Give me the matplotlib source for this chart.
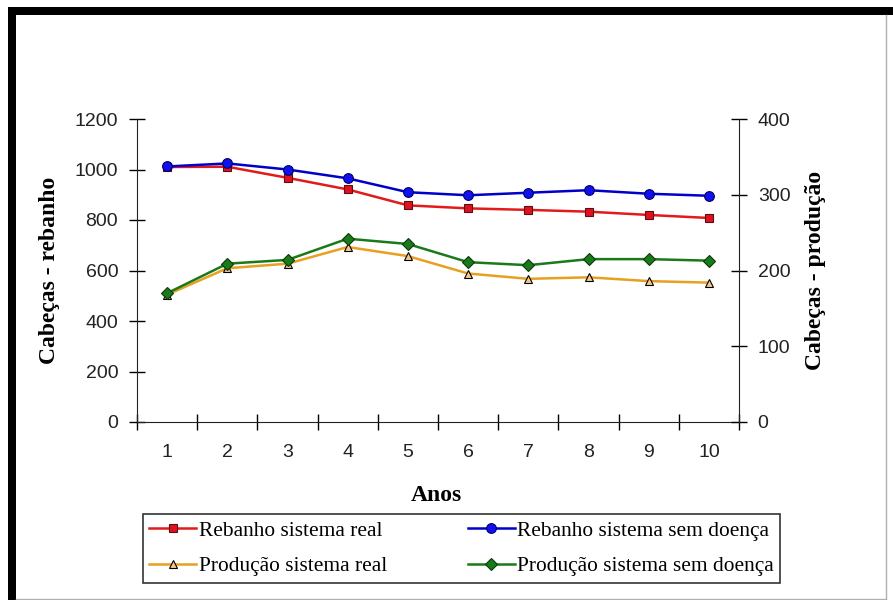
import matplotlib.pyplot as plt
from matplotlib.patches import Rectangle
from matplotlib.lines import Line2D

anos = [1, 2, 3, 4, 5, 6, 7, 8, 9, 10]
rebanho_real = [1010, 1011, 967, 921, 858, 846, 840, 833, 820, 808]
rebanho_sem_doenca = [1012, 1024, 1000, 965, 910, 898, 908, 918, 904, 896]
producao_real = [168, 203, 209, 231, 219, 196, 189, 191, 186, 184]
producao_sem_doenca = [170, 209, 214, 242, 235, 211, 207, 215, 215, 213]

W, H = 893, 600
fig = plt.figure(figsize=(W / 100, H / 100), dpi=100)

# moldura: faixa preta em cima e à esquerda, linha cinza à direita e embaixo
fig.patches.append(Rectangle((8 / W, 1 - 15 / H), 1 - 8 / W, 8 / H, transform=fig.transFigure,
                             facecolor="black", edgecolor="none", zorder=0))
fig.patches.append(Rectangle((8 / W, 0), 8 / W, 1 - 7 / H, transform=fig.transFigure,
                             facecolor="black", edgecolor="none", zorder=0))
fig.add_artist(Line2D([886 / W, 886 / W], [0, 1 - 15 / H], transform=fig.transFigure, color="#b0b0b0", lw=1))
fig.add_artist(Line2D([16 / W, 886 / W], [1.5 / H, 1.5 / H], transform=fig.transFigure, color="#b0b0b0", lw=1))

ax = fig.add_axes([137 / W, 1 - 422 / H, (739 - 137) / W, (422 - 119) / H])
ax2 = ax.twinx()

l1, = ax.plot(anos, rebanho_real, color="#e31a1c", lw=1.8, marker="s", ms=6,
              mfc="#e01020", mec="#5a1010", mew=0.8, zorder=3)
l2, = ax.plot(anos, rebanho_sem_doenca, color="#0000c8", lw=1.8, marker="o", ms=7,
              mfc="#1010f0", mec="#000060", mew=0.8, zorder=3)
l3, = ax2.plot(anos, producao_real, color="#e8a020", lw=1.8, marker="^", ms=6,
               mfc="#f5c890", mec="black", mew=0.8, zorder=3)
l4, = ax2.plot(anos, producao_sem_doenca, color="#1a7a1a", lw=1.8, marker="D", ms=6,
               mfc="#1a7a1a", mec="#0a3a0a", mew=0.8, zorder=3)

ax.set_xlim(0.5, 10.5)
ax.set_ylim(0, 1200)
ax2.set_ylim(0, 400)
ax.set_yticks([0, 200, 400, 600, 800, 1000, 1200])
ax2.set_yticks([0, 100, 200, 300, 400])

ax.set_xticks([x + 0.5 for x in range(0, 11)])
ax.set_xticklabels([])
ax.set_xticks(anos, minor=True)
ax.set_xticklabels([str(a) for a in anos], minor=True)
ax.tick_params(axis="x", which="minor", length=0, pad=16)
ax.tick_params(axis="x", which="major", direction="inout", length=11, width=1)

for lab in ax.get_xticklabels(minor=True) + ax.get_yticklabels() + ax2.get_yticklabels():
    lab.set_fontfamily("Liberation Sans")
    lab.set_fontsize(14)
    lab.set_color("#222222")
ax.tick_params(axis="y", direction="inout", length=11, width=1, pad=8)
ax2.tick_params(axis="y", direction="inout", length=11, width=1, pad=8)

for a in (ax, ax2):
    a.spines["top"].set_visible(False)
    a.spines["left"].set_color("#222222")
    a.spines["right"].set_color("#222222")
    a.spines["bottom"].set_color("#222222")
ax.spines["right"].set_visible(False)
ax2.spines["left"].set_visible(False)
ax2.spines["bottom"].set_visible(False)

label_font = dict(family="Liberation Serif", size=17, weight="bold")
ax.set_ylabel("Cabeças - rebanho", **label_font)
ax.yaxis.set_label_coords(-0.128, 0.5)
ax2.set_ylabel("Cabeças - produção", rotation=90, **label_font)
ax2.yaxis.set_label_coords(1.110, 0.5)
ax.set_xlabel("Anos", **label_font)
ax.xaxis.set_label_coords(0.498, -0.208)

leg = fig.legend([l1, l3, l2, l4],
                 ["Rebanho sistema real", "Produção sistema real",
                  "Rebanho sistema sem doença", "Produção sistema sem doença"],
                 ncol=2, loc="center", mode="expand",
                 bbox_to_anchor=(143 / W, 1 - 585 / H, (780 - 143) / W, 73 / H),
                 prop=dict(family="Liberation Serif", size=15.4),
                 frameon=True, fancybox=False, edgecolor="black",
                 handlelength=2.2, handletextpad=0.1, labelspacing=0.73,
                 borderaxespad=0, borderpad=0.3)
leg.get_frame().set_linewidth(1.2)

fig.savefig("out.png", dpi=100, facecolor="white")
